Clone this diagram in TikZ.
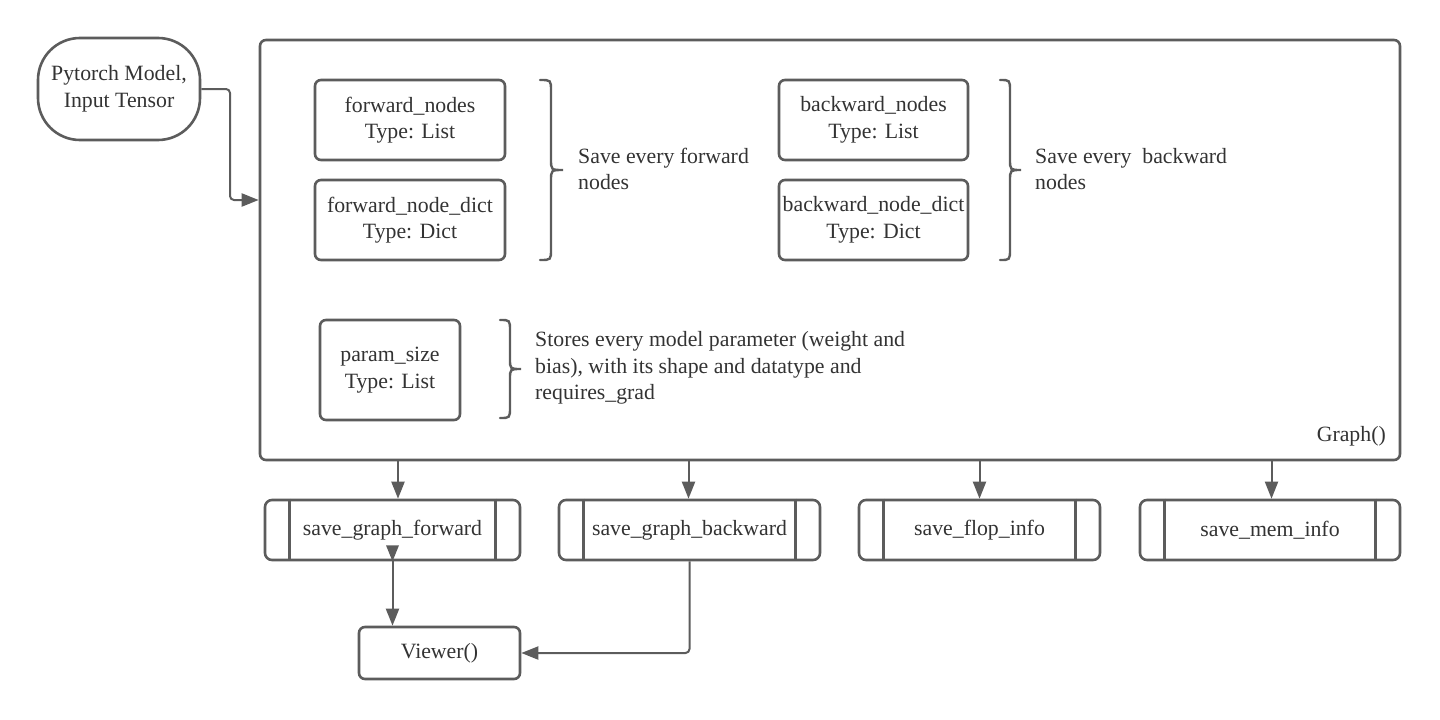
\documentclass[tikz,border=0pt]{standalone}
\usepackage{fontspec}
\setmainfont{Liberation Serif}
\usetikzlibrary{arrows.meta}
\definecolor{lc}{HTML}{5C5C5C}
\definecolor{tc}{HTML}{333333}
\begin{document}
\begin{tikzpicture}[x=1pt,y=-1pt,
  every node/.style={text=tc,font=\fontsize{21.8}{26.5}\selectfont},
  box/.style={draw=lc,line width=2.6pt,rounded corners=6pt,align=center,inner sep=0pt},
  pill/.style={box,rounded corners=42pt},
  procbox/.style={box,minimum height=60,rounded corners=7pt},
  note/.style={anchor=west,align=left,inner sep=0pt},
  arr/.style={draw=lc,line width=2pt,-{Triangle[length=17pt,width=13pt]}},
  brc/.style={draw=lc,line width=2.4pt,line cap=round}]
\useasboundingbox (0,0) rectangle (1440,720);

% main container
\node[box,minimum width=1140,minimum height=420] (graph) at (830,250) {};
\node[anchor=east,inner sep=0pt] (glabel) at (1386,436) {Graph()};

% input
\node[pill,minimum width=162,minimum height=102] (pill) at (119,89) {Pytorch Model,\\Input Tensor};

% inner boxes
\node[box,minimum width=190,minimum height=80] (fn) at (410,120) {forward\_nodes\\Type: List};
\node[box,minimum width=190,minimum height=80] (fnd) at (410,220) {forward\_node\_dict\\Type: Dict};
\node[box,minimum width=189,minimum height=80] (bn) at (873.5,120) {backward\_nodes\\Type: List};
\node[box,minimum width=189,minimum height=80] (bnd) at (873.5,220) {backward\_node\_dict\\Type: Dict};
\node[box,minimum width=140,minimum height=100] (ps) at (390,370) {param\_size\\Type: List};

% braces
\draw[brc] (540,80) .. controls (551,80) .. (551,91) -- (551,159) .. controls (551,170) .. (563,170)
  .. controls (551,170) .. (551,181) -- (551,249) .. controls (551,260) .. (540,260);
\draw[brc] (1000,80) .. controls (1010,80) .. (1010,91) -- (1010,159) .. controls (1010,170) .. (1021,170)
  .. controls (1010,170) .. (1010,181) -- (1010,249) .. controls (1010,260) .. (1000,260);
\draw[brc] (500,320) .. controls (510,320) .. (510,331) -- (510,359) .. controls (510,369) .. (521,369)
  .. controls (510,369) .. (510,379) -- (510,407) .. controls (510,418) .. (500,418);

% notes
\node[note] (fnote) at (578,169) {Save every forward\\nodes};
\node[note] (bnote) at (1035,169) {Save every\ \ backward\\nodes};
\node[note] (pnote) at (535,368) {Stores every model parameter (weight and\\bias), with its shape and datatype and\\requires\_grad};

% bottom process boxes
\node[procbox,minimum width=255] (sgf) at (392.5,530) {save\_graph\_forward};
\node[procbox,minimum width=261] (sgb) at (689.5,530) {save\_graph\_backward};
\node[procbox,minimum width=241] (sfi) at (979.5,530) {save\_flop\_info};
\node[procbox,minimum width=260] (smi) at (1270,530) {save\_mem\_info};
\foreach \n in {sgf,sgb,sfi,smi}{
  \draw[lc,line width=2.6pt] ([xshift=26pt]\n.north west) -- ([xshift=26pt]\n.south west);
  \draw[lc,line width=2.6pt] ([xshift=-26pt]\n.north east) -- ([xshift=-26pt]\n.south east);
}

\node[box,minimum width=161,minimum height=52] (viewer) at (439.5,653) {Viewer()};

% connectors
\draw[arr,rounded corners=4pt] (pill.east) -- (230,89) -- (230,200) -- (graph.west |- 0,200);
\draw[arr] ([xshift=5.5pt]sgf.north |- graph.south) -- ([xshift=5.5pt]sgf.north);
\draw[arr] ([xshift=-1pt]sgb.north |- graph.south) -- ([xshift=-1pt]sgb.north);
\draw[arr] (sfi.north |- graph.south) -- (sfi.north);
\draw[arr] ([xshift=1.5pt]smi.north |- graph.south) -- ([xshift=1.5pt]smi.north);
\fill[lc] (sgf.south) -- ++(-6.5,-16) -- ++(13,0) -- cycle;
\draw[arr] (sgf.south) -- (sgf.south |- viewer.north);
\draw[arr,rounded corners=4pt] (sgb.south) |- (viewer.east);
\end{tikzpicture}
\end{document}
